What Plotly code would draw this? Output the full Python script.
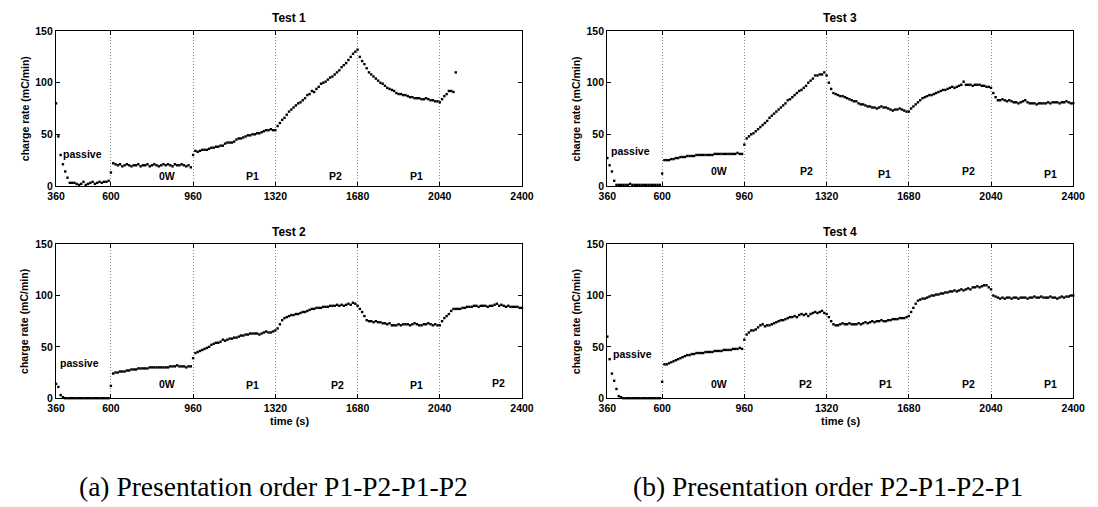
import plotly.graph_objects as go
from plotly.subplots import make_subplots

# ---------------- data ----------------
time_full = list(range(360, 2401, 10))      # sample times (s), tests 2-4
time_test1 = list(range(360, 2111, 10))     # test 1 stops early

x_ticks = [360, 600, 960, 1320, 1680, 2040, 2400]
y_ticks = [0, 50, 100, 150]

test1 = [
    80, 48, 30, 21, 14, 8, 3, 3, 3, 2, 1, 2, 4, 1, 2, 3, 4, 2, 3, 4, 3, 4, 4, 5,
    13, 22, 21, 20, 21, 19, 20, 21, 20, 19, 20, 20, 21, 19, 20, 20, 21, 19, 20, 21,
    20, 19, 20, 21, 20, 21, 20, 19, 21, 20, 20, 21, 20, 19, 20, 18,
    30, 34, 33, 34, 35, 35, 35, 36, 37, 37, 38, 38, 39, 39, 41, 42, 42, 42, 43, 45,
    46, 46, 47, 48, 49, 49, 50, 50, 51, 51, 52, 53, 54, 54, 55, 54,
    54, 58, 61, 64, 66, 69, 72, 74, 76, 78, 80, 81, 83, 85, 88, 89, 92, 91, 94, 96,
    99, 100, 101, 103, 105, 106, 108, 110, 112, 115, 117, 119, 122, 125, 128, 130,
    132, 125, 121, 118, 114, 110, 108, 106, 104, 102, 100, 99, 97, 95, 94, 93, 92, 90, 89, 89,
    88, 88, 87, 86, 86, 85, 85, 85, 84, 84, 85, 84, 83, 83, 82, 82,
    81, 84, 87, 89, 92, 92, 91, 110,
]

test2 = [
    14, 11, 3, 1, 0, 0, 0, 0, 0, 0, 0, 0, 0, 0, 0, 0, 0, 0, 0, 0, 0, 0, 0, 0,
    12, 24, 25, 25, 26, 26, 26, 27, 27, 28, 28, 28, 29, 29, 29, 29, 29, 30, 30, 30,
    30, 30, 30, 30, 30, 30, 31, 31, 31, 32, 31, 31, 31, 30, 31, 31,
    39, 44, 45, 46, 47, 48, 49, 50, 52, 53, 54, 54, 55, 57, 56, 57, 58, 58, 59, 59,
    60, 61, 61, 62, 62, 63, 63, 63, 63, 62, 63, 64, 65, 64, 64, 65,
    66, 68, 72, 76, 78, 79, 80, 81, 81, 82, 82, 83, 84, 84, 85, 86, 87, 87, 88, 88,
    88, 89, 89, 89, 90, 90, 90, 91, 90, 91, 90, 91, 92, 91, 93, 92,
    90, 87, 84, 80, 76, 75, 75, 74, 75, 74, 74, 73, 73, 72, 73, 71, 71, 71, 72, 71,
    72, 72, 72, 71, 72, 73, 72, 71, 71, 72, 72, 73, 72, 71, 72, 71,
    71, 75, 78, 80, 82, 85, 87, 87, 87, 87, 88, 88, 89, 89, 89, 90, 90, 89, 90, 90,
    90, 89, 90, 90, 91, 92, 90, 91, 90, 89, 90, 89, 89, 89, 89, 88, 88,
]

test3 = [
    27, 20, 14, 5, 1, 1, 1, 1, 1, 1, 2, 1, 1, 1, 1, 1, 1, 1, 1, 1, 1, 1, 1, 1,
    12, 25, 25, 25, 26, 26, 27, 27, 28, 28, 28, 29, 29, 29, 29, 30, 30, 30, 30, 30,
    30, 30, 30, 31, 31, 31, 31, 31, 31, 31, 31, 31, 31, 32, 31, 31,
    40, 46, 48, 50, 51, 53, 55, 57, 59, 61, 63, 66, 68, 70, 72, 74, 76, 78, 80, 83,
    84, 86, 88, 90, 92, 93, 95, 97, 100, 102, 104, 107, 107, 108, 108, 110,
    107, 100, 94, 90, 89, 88, 87, 87, 86, 85, 84, 83, 82, 82, 80, 79, 79, 78, 77, 77,
    76, 76, 75, 76, 77, 76, 76, 75, 74, 73, 74, 74, 75, 74, 73, 72,
    72, 75, 77, 79, 81, 83, 85, 86, 87, 88, 88, 89, 90, 91, 92, 93, 93, 94, 95, 96,
    95, 96, 97, 98, 101, 98, 98, 98, 97, 98, 98, 98, 97, 97, 96, 96,
    95, 90, 86, 83, 83, 84, 83, 82, 83, 82, 81, 81, 80, 81, 82, 83, 81, 80, 80, 80,
    79, 80, 80, 80, 80, 81, 80, 81, 81, 81, 80, 81, 81, 82, 81, 80, 80,
]

test4 = [
    60, 38, 24, 17, 9, 2, 1, 0, 0, 0, 0, 0, 0, 0, 0, 0, 0, 0, 0, 0, 0, 0, 0, 0,
    16, 33, 33, 34, 35, 36, 37, 38, 39, 40, 41, 42, 42, 43, 43, 44, 44, 44, 44, 45,
    45, 45, 45, 46, 46, 46, 46, 47, 47, 47, 47, 48, 48, 48, 49, 48,
    57, 62, 64, 66, 66, 67, 69, 71, 72, 70, 71, 71, 72, 73, 74, 75, 76, 76, 77, 78,
    79, 79, 80, 79, 81, 82, 81, 82, 80, 82, 83, 84, 83, 84, 85, 83,
    82, 79, 75, 72, 71, 71, 72, 73, 72, 72, 73, 72, 72, 72, 73, 72, 73, 74, 73, 74,
    75, 74, 75, 75, 76, 75, 75, 76, 76, 77, 77, 77, 78, 78, 78, 79,
    80, 84, 88, 92, 95, 96, 97, 97, 98, 99, 100, 100, 101, 101, 102, 102, 103, 103, 104, 104,
    105, 104, 105, 106, 105, 106, 107, 106, 108, 108, 109, 108, 109, 110, 110, 108,
    106, 100, 99, 98, 97, 98, 97, 98, 98, 97, 98, 98, 97, 98, 98, 98, 97, 98, 98, 99,
    98, 98, 99, 98, 98, 98, 99, 98, 98, 97, 98, 99, 98, 99, 99, 100, 100,
]

# phase labels: (text, x, y)
labels1 = [("passive", 475, 31), ("0W", 846, 10), ("P1", 1220, 10), ("P2", 1585, 10), ("P1", 1940, 10)]
labels2 = [("passive", 464, 34), ("0W", 846, 14), ("P1", 1220, 13), ("P2", 1590, 13), ("P1", 1940, 13), ("P2", 2295, 15)]
labels3 = [("passive", 462, 34), ("0W", 851, 14), ("P2", 1230, 14), ("P1", 1575, 12), ("P2", 1940, 14), ("P1", 2300, 12)]
labels4 = [("passive", 470, 43), ("0W", 851, 14), ("P2", 1228, 14), ("P1", 1580, 14), ("P2", 1942, 14), ("P1", 2300, 14)]

titles = ["Test 1", "Test 3", "Test 2", "Test 4"]
captions = ["(a) Presentation order P1-P2-P1-P2", "(b) Presentation order P2-P1-P2-P1"]

# ---------------- figure ----------------
W, H = 1098, 507
SANS = "Liberation Sans"
SERIF = "Liberation Serif"

fig = make_subplots(rows=2, cols=2)

panels = [
    (time_test1, test1, 1, 1, labels1, titles[0], "x", "y"),
    (time_full, test3, 1, 2, labels3, titles[1], "x2", "y2"),
    (time_full, test2, 2, 1, labels2, titles[2], "x3", "y3"),
    (time_full, test4, 2, 2, labels4, titles[3], "x4", "y4"),
]

# pixel geometry of axes boxes
xdom = {1: (48 / W, 523 / W), 2: (610 / W, 1085 / W)}
ydom = {1: (1 - 184.3 / H, 1 - 25.7 / H), 2: (1 - 401.7 / H, 1 - 244 / H)}
caption_x = {1: 270 / W, 2: 835 / W}

annotations = []
for times, vals, r, c, labs, title, xr, yr in panels:
    fig.add_trace(
        go.Scatter(
            x=times, y=vals, mode="markers",
            marker=dict(symbol="square", size=2.4, color="black", line=dict(width=0)),
            cliponaxis=False, showlegend=False, hoverinfo="skip",
        ),
        row=r, col=c,
    )
    for text, lx, ly in labs:
        annotations.append(dict(
            text=text, x=lx, y=ly, xref=xr, yref=yr, showarrow=False,
            font=dict(family=SANS, size=10.5, color="black", weight="bold"),
            xanchor="center", yanchor="middle",
        ))
    x0, x1 = xdom[c]
    y0, y1 = ydom[r]
    annotations.append(dict(
        text=title, x=(x0 + x1) / 2, y=y1 + 13 / H, xref="paper", yref="paper",
        showarrow=False, xanchor="center", yanchor="middle",
        font=dict(family=SANS, size=12, color="black", weight="bold"),
    ))
    annotations.append(dict(
        text="charge rate (mC/min)", x=x0 - 32 / W, y=(y0 + y1) / 2,
        xref="paper", yref="paper", showarrow=False, textangle=-90,
        xanchor="center", yanchor="middle",
        font=dict(family=SANS, size=10.5, color="black", weight="bold"),
    ))
    if r == 2:
        annotations.append(dict(
            text="time (s)", x=(x0 + x1) / 2, y=1 - 425 / H,
            xref="paper", yref="paper", showarrow=False,
            xanchor="center", yanchor="middle",
            font=dict(family=SANS, size=11, color="black", weight="bold"),
        ))

for i, cap in enumerate(captions):
    annotations.append(dict(
        text=cap, x=caption_x[i + 1], y=1 - 492 / H, xref="paper", yref="paper",
        showarrow=False, xanchor="center", yanchor="middle",
        font=dict(family=SERIF, size=27.5, color="black"),
    ))

tickfont = dict(family=SANS, size=10.5, color="black", weight="bold")
fig.update_xaxes(
    range=[360, 2400], tickvals=x_ticks, ticktext=[str(v) for v in x_ticks],
    ticks="inside", ticklen=4, tickcolor="black", mirror="ticks",
    showline=True, linecolor="black", linewidth=1.2,
    showgrid=True, gridcolor="#8c8c8c", griddash="1px,2px", gridwidth=1,
    zeroline=False, tickfont=tickfont,
)
fig.update_yaxes(
    range=[0, 150], tickvals=y_ticks, ticks="inside", ticklen=4, tickcolor="black",
    mirror="ticks", showline=True, linecolor="black", linewidth=1.2,
    showgrid=False, zeroline=False, tickfont=tickfont,
)

fig.update_layout(
    width=W, height=H, margin=dict(l=0, r=0, t=0, b=0),
    paper_bgcolor="white", plot_bgcolor="white",
    annotations=annotations,
    xaxis=dict(domain=list(xdom[1])), yaxis=dict(domain=list(ydom[1])),
    xaxis2=dict(domain=list(xdom[2])), yaxis2=dict(domain=list(ydom[1])),
    xaxis3=dict(domain=list(xdom[1])), yaxis3=dict(domain=list(ydom[2])),
    xaxis4=dict(domain=list(xdom[2])), yaxis4=dict(domain=list(ydom[2])),
)

# remove the browser's default 8px body margin so the figure sits at (0, 0)
fig.write_html(
    "out.html",
    config={"displayModeBar": False, "staticPlot": True},
    post_script="document.body.style.margin='0';",
)
